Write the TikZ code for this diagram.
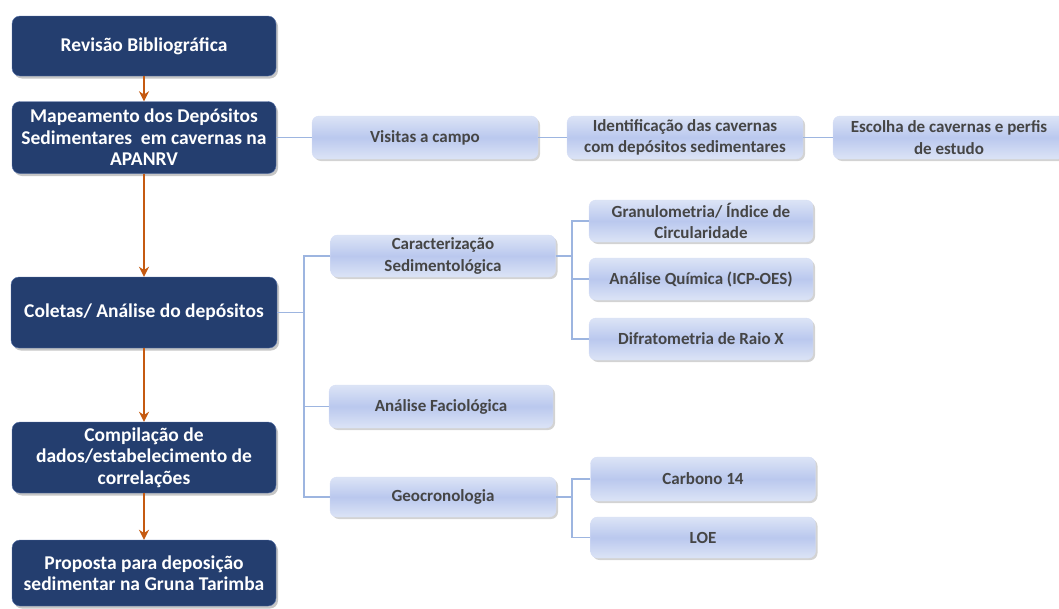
\documentclass[tikz,border=0pt]{standalone}
\usepackage{fontspec}
\setmainfont{Carlito}
\usepackage{tikz}
\usetikzlibrary{shadows,arrows.meta}
\definecolor{azulescuro}{HTML}{243E6F}
\definecolor{bordaescura}{HTML}{5470A8}
\definecolor{azulclaro}{HTML}{BAC8EE}
\definecolor{azultopo}{HTML}{DCE4F6}
\definecolor{linhaazul}{HTML}{9DB5E0}
\definecolor{laranja}{HTML}{C55A11}
\definecolor{textocinza}{HTML}{454545}

\begin{document}
\begin{tikzpicture}[x=1pt,y=-1pt]
\tikzstyle{etapa}=[draw=bordaescura,fill=azulescuro,rounded corners=8pt,text=white,
  font=\fontsize{19.5}{21.5}\selectfont\bfseries,align=center,inner sep=2pt,
  drop shadow={shadow xshift=2pt,shadow yshift=-2.5pt,opacity=0.45}]
\tikzstyle{item}=[draw=azulclaro!60!white,top color=azultopo,bottom color=azultopo,middle color=azulclaro,
  rounded corners=7pt,text=textocinza,font=\fontsize{17}{21.5}\selectfont\bfseries,align=center,
  inner sep=2pt,drop shadow={shadow xshift=2pt,shadow yshift=-2pt,opacity=0.35}]
\tikzstyle{seta}=[draw=laranja,line width=2.8pt,-{Stealth[length=10pt,width=10pt]}]
\tikzstyle{liga}=[draw=linhaazul,line width=1.5pt]
\useasboundingbox (0,0) rectangle (1059,608);

% etapas principais
\node[etapa,minimum width=264pt,minimum height=60pt] (rev) at (144,46) {Revisão Bibliográfica};
\node[etapa,minimum width=264pt,minimum height=72pt] (map) at (144,137.5)
  {Mapeamento dos Depósitos\\Sedimentares\ \ em cavernas na\\APANRV};
\node[etapa,minimum width=266pt,minimum height=71pt] (col) at (144,312.5) {Coletas/ Análise do depósitos};
\node[etapa,minimum width=264pt,minimum height=71pt] (comp) at (144,457.5)
  {Compilação de\\dados/estabelecimento de\\correlações};
\node[etapa,minimum width=264pt,minimum height=66pt] (prop) at (144,573)
  {Proposta para deposição\\sedimentar na Gruna Tarimba};

% mapeamento
\node[item,minimum width=226pt,minimum height=43pt] (vis) at (425,137.5) {Visitas a campo};
\node[item,minimum width=236pt,minimum height=43pt] (ident) at (685,137.5)
  {Identificação das cavernas\\com depósitos sedimentares};
\node[item,minimum width=232pt,minimum height=43pt] (esc) at (949,137.5)
  {Escolha de cavernas e perfis\\de estudo};

% coletas
\node[item,minimum width=225pt,minimum height=42pt] (carac) at (443,256)
  {Caracterização\\Sedimentológica};
\node[item,minimum width=224pt,minimum height=43pt] (fac) at (441,406.5) {Análise Faciológica};
\node[item,minimum width=226pt,minimum height=40pt] (geo) at (443,497) {Geocronologia};
\node[item,minimum width=224pt,minimum height=42pt] (gran) at (701,221)
  {Granulometria/ Índice de\\Circularidade};
\node[item,minimum width=224pt,minimum height=42pt] (quim) at (701,279) {Análise Química (ICP-OES)};
\node[item,minimum width=224pt,minimum height=42pt] (dif) at (701,339) {Difratometria de Raio X};
\node[item,minimum width=225pt,minimum height=44pt] (c14) at (703,479) {Carbono 14};
\node[item,minimum width=225pt,minimum height=41pt] (loe) at (703,537.5) {LOE};

\coordinate (t1) at (304,312.5);
\coordinate (t2) at (572,256);
\coordinate (t3) at (572,497);

\draw[seta] (rev) -- (map);
\draw[seta] (map) -- (col);
\draw[seta] (col) -- (comp);
\draw[seta] (comp) -- (prop);

\draw[liga] (map.east) -- (vis.west);
\draw[liga] (vis.east) -- (ident.west);
\draw[liga] (ident.east) -- (esc.west);

\draw[liga] (col.east) -- (t1);
\draw[liga] (carac.west) -| (t1) |- (geo.west);
\draw[liga] (fac.west) -- (fac.west -| t1);
\draw[liga] (carac.east) -- (t2);
\draw[liga] (gran.west) -| (t2) |- (dif.west);
\draw[liga] (quim.west) -- (quim.west -| t2);
\draw[liga] (geo.east) -- (t3);
\draw[liga] (c14.west) -| (t3) |- (loe.west);
\end{tikzpicture}
\end{document}
